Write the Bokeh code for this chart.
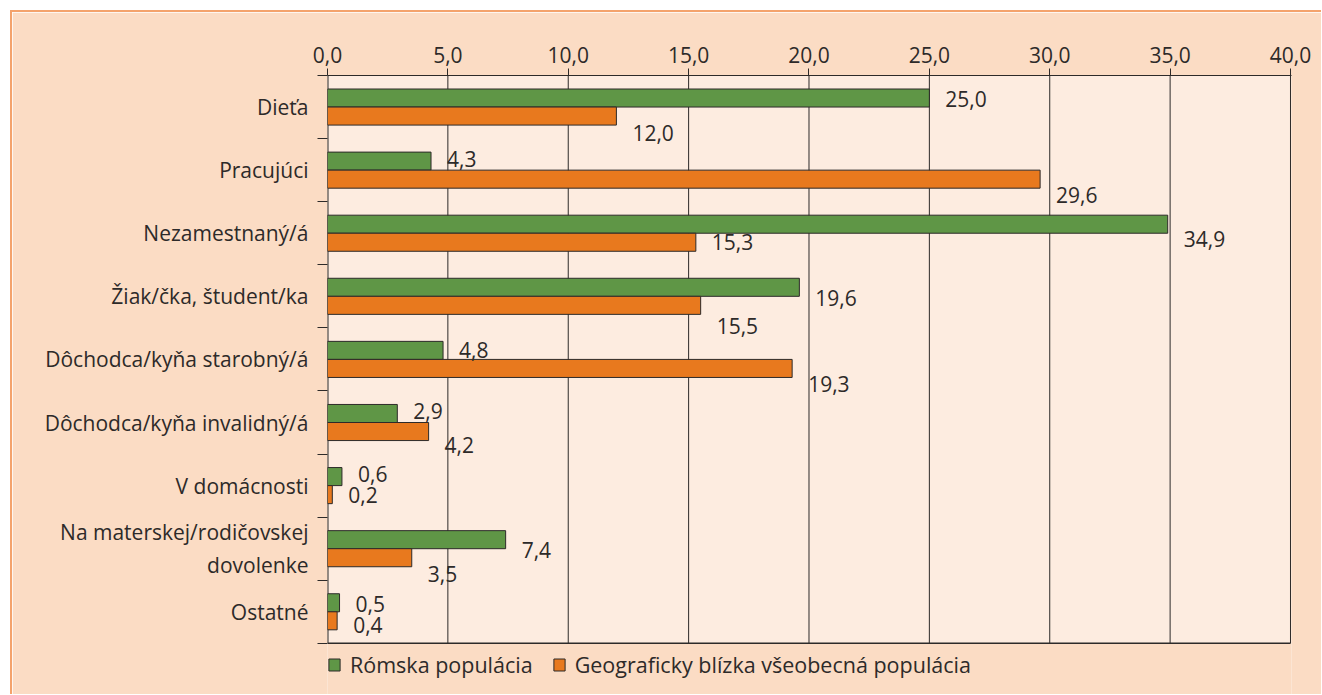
from bokeh.plotting import figure
from bokeh.models import (ColumnDataSource, Range1d, FixedTicker, CustomJSTickFormatter,
                          LabelSet, Legend, LegendItem)
from bokeh.core.properties import value
from bokeh.embed import file_html
from bokeh.resources import INLINE

# ---- data ----
categories = ["Dieťa", "Pracujúci", "Nezamestnaný/á", "Žiak/čka, študent/ka",
              "Dôchodca/kyňa starobný/á", "Dôchodca/kyňa invalidný/á", "V domácnosti",
              "Na materskej/rodičovskej\ndovolenke", "Ostatné"]
roma = [25.0, 4.3, 34.9, 19.6, 4.8, 2.9, 0.6, 7.4, 0.5]
general = [12.0, 29.6, 15.3, 15.5, 19.3, 4.2, 0.2, 3.5, 0.4]
series_names = ["Rómska populácia", "Geograficky blízka všeobecná populácia"]
x_ticks = [0, 5, 10, 15, 20, 25, 30, 35, 40]

# ---- label placement (pixel nudges, as in the original) ----
roma_label_dy = [1, -2, 15, 11, 0, -2, -3, 10, 1]
general_label_dy = [17, 16, 0, 21, 16, 13, 0, 16, 4]

GREEN = "#5f9646"
ORANGE = "#e8791e"
DARK = "#2d2a29"
OUTER = "#fbdcc4"
INNER = "#fdece0"
BORDER = "#f4a36c"
FONT = "Open Sans"
FS = "21px"
FS_LEGEND = "21.5px"

# ---- layout (page pixels) ----
W, H = 1311, 684
ORIGIN = 12                  # canvas origin on the page (margin + border)
PLOT_L, PLOT_T = 327, 75     # where x=0 / top of first category lie
PLOT_R, PLOT_B = 1288, 641   # where x=40 / bottom of last category lie
FRAME_R = PLOT_R + 1
CANVAS_R, CANVAS_B = ORIGIN + W - 2, ORIGIN + H - 2

n = len(categories)
x_max = x_ticks[-1]
x_end = x_max * (FRAME_R - PLOT_L) / (PLOT_R - PLOT_L)
y_end = n * (CANVAS_B - PLOT_T) / (PLOT_B - PLOT_T)

centers = [i + 0.5 for i in range(n)]
bar_h = 0.286
fmt = lambda v: f"{v:.1f}".replace(".", ",")
src_r = ColumnDataSource(dict(y=[c - bar_h / 2 for c in centers], v=roma,
                              t=[fmt(v) for v in roma],
                              dy=[-d for d in roma_label_dy]))
src_g = ColumnDataSource(dict(y=[c + bar_h / 2 for c in centers], v=general,
                              t=[fmt(v) for v in general],
                              dy=[-d for d in general_label_dy]))

p = figure(width=W, height=H, output_backend="svg", toolbar_location=None,
           x_range=Range1d(0, x_end), y_range=Range1d(y_end, 0),
           x_axis_location="above",
           min_border_left=PLOT_L - ORIGIN, min_border_top=PLOT_T - ORIGIN,
           min_border_right=CANVAS_R - FRAME_R, min_border_bottom=0)
p.margin = (10, 0, 0, 10)
p.styles = {"border-left": f"2px solid {BORDER}", "border-top": f"2px solid {BORDER}"}
p.background_fill_color = OUTER
p.border_fill_color = OUTER
p.outline_line_color = None
p.xgrid.grid_line_color = None
p.ygrid.grid_line_color = None

# plot area background, grid lines and bottom line
p.quad(left=0, right=x_max, top=0, bottom=n, fill_color=INNER, line_color=None)
p.segment(x0=x_ticks[1:], x1=x_ticks[1:], y0=0, y1=n, line_color=DARK, line_width=1)
p.segment(x0=[0], x1=[0], y0=[0], y1=[n], line_color=DARK, line_width=2)
p.segment(x0=[0], x1=[x_max], y0=[n], y1=[n], line_color=DARK, line_width=1.5)

r1 = p.hbar(y="y", right="v", left=0, height=bar_h, source=src_r,
            fill_color=GREEN, line_color=DARK, line_width=1)
r2 = p.hbar(y="y", right="v", left=0, height=bar_h, source=src_g,
            fill_color=ORANGE, line_color=DARK, line_width=1)

for src in (src_r, src_g):
    p.add_layout(LabelSet(x="v", y="y", text="t", source=src, x_offset=16, y_offset="dy",
                          text_font=value(FONT), text_font_size=FS, text_color=DARK,
                          text_baseline="middle", text_align="left"))

# top axis
xa = p.xaxis[0]
xa.ticker = FixedTicker(ticks=x_ticks)
xa.formatter = CustomJSTickFormatter(code="return tick.toFixed(1).replace('.', ',');")
xa.major_tick_out = 7
xa.major_tick_in = 0
xa.minor_tick_line_color = None
xa.major_label_standoff = 6
xa.axis_line_color = DARK
xa.major_tick_line_color = DARK
xa.major_label_text_font = FONT
xa.major_label_text_font_size = FS
xa.major_label_text_color = DARK

# left axis (line drawn above as a segment, so it stops at the last category)
ya = p.yaxis[0]
ya.ticker = FixedTicker(ticks=centers, minor_ticks=list(range(n + 1)))
ya.formatter = CustomJSTickFormatter(args=dict(labels=categories),
                                     code="return labels[Math.floor(tick)];")
ya.axis_line_color = None
ya.major_tick_line_color = None
ya.major_tick_in = 0
ya.major_tick_out = 0
ya.minor_tick_out = 10
ya.minor_tick_in = 0
ya.minor_tick_line_color = DARK
ya.major_label_standoff = 9
ya.major_label_text_font = FONT
ya.major_label_text_font_size = FS
ya.major_label_text_color = DARK

legend = Legend(items=[LegendItem(label=series_names[0], renderers=[r1]),
                       LegendItem(label=series_names[1], renderers=[r2])],
                orientation="horizontal", location=(0, 17),
                glyph_width=14, glyph_height=15, label_standoff=9, spacing=19,
                padding=0, margin=0, background_fill_alpha=0, border_line_alpha=0,
                label_text_font=FONT, label_text_font_size=FS_LEGEND, label_text_color=DARK)
p.add_layout(legend, "center")

open("out.html", "w").write(file_html(p, INLINE))
